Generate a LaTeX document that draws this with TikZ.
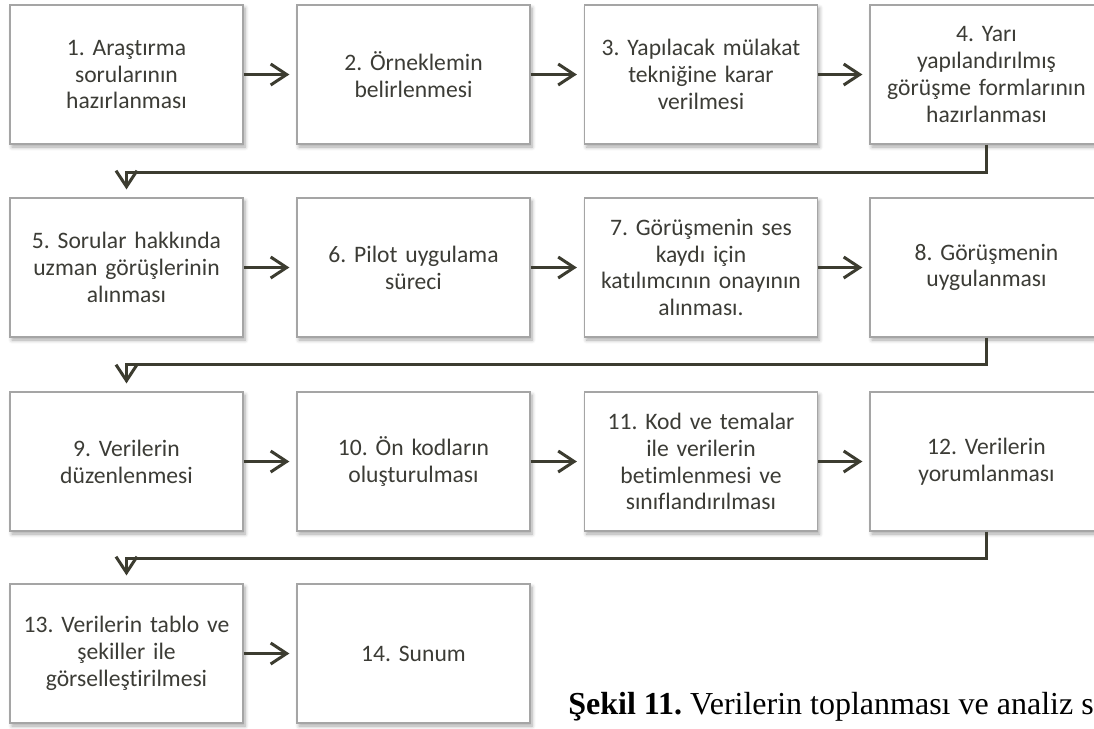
\documentclass[tikz,border=0pt]{standalone}
\usepackage{fontspec}
\setmainfont{Carlito}[Ligatures=NoCommon]
\newfontfamily\capfont{Liberation Serif}
\usetikzlibrary{arrows.meta,shadows.blur}
\frenchspacing

\definecolor{framegray}{RGB}{165,165,165}
\definecolor{inkgray}{RGB}{60,60,54}
\definecolor{linkolive}{RGB}{60,60,48}

\tikzset{
	stepbox/.style={draw=framegray, line width=0.6pt, fill=white, inner sep=0pt,
		minimum width=116.5pt, minimum height=69.5pt, text width=110pt, align=center,
		text=inkgray, font=\fontsize{11.8}{13.4}\selectfont,
		blur shadow={shadow xshift=1pt, shadow yshift=-1.5pt, shadow blur steps=6, shadow opacity=35}},
	linkarrow/.style={draw=linkolive, line width=1.5pt, -{Straight Barb[length=8pt,width=10.5pt]}}
}

\begin{document}
\begin{tikzpicture}[x=0.5pt,y=-0.5pt]
	%Picture frame in pixels, y pointing down
	\useasboundingbox (0,0) rectangle (1094,729);
	
	%Column centres \xa..\xd and row centres \ya..\yd
	\pgfmathsetmacro{\xa}{126.5}
	\pgfmathsetmacro{\xb}{413.5}
	\pgfmathsetmacro{\xc}{701}
	\pgfmathsetmacro{\xd}{986.5}
	\pgfmathsetmacro{\ya}{74.5}
	\pgfmathsetmacro{\yb}{267.5}
	\pgfmathsetmacro{\yc}{461.5}
	\pgfmathsetmacro{\yd}{653.5}
	%Turning lines lie 28px under each row
	\pgfmathsetmacro{\ta}{172}
	\pgfmathsetmacro{\tb}{364}
	\pgfmathsetmacro{\tc}{558}
	
	%First row
	\draw node[stepbox] (b1) at (\xa,\ya) {1. Araştırma\\ sorularının\\ hazırlanması};
	\draw node[stepbox] (b2) at (\xb,\ya) {2. Örneklemin\\ belirlenmesi};
	\draw node[stepbox] (b3) at (\xc,\ya) {3. Yapılacak mülakat\\ tekniğine karar\\ verilmesi};
	\draw node[stepbox] (b4) at (\xd,\ya) {4. Yarı\\ yapılandırılmış\\ görüşme formlarının\\ hazırlanması};
	
	%Second row
	\draw node[stepbox] (b5) at (\xa,\yb) {5. Sorular hakkında\\ uzman görüşlerinin\\ alınması};
	\draw node[stepbox] (b6) at (\xb,\yb) {6. Pilot uygulama\\ süreci};
	\draw node[stepbox] (b7) at (\xc,\yb) {7. Görüşmenin ses\\ kaydı için\\ katılımcının onayının\\ alınması.};
	\draw node[stepbox] (b8) at (\xd,\yb) {8. Görüşmenin\\ uygulanması};
	
	%Third row
	\draw node[stepbox] (b9) at (\xa,\yc) {9. Verilerin\\ düzenlenmesi};
	\draw node[stepbox] (b10) at (\xb,\yc) {10. Ön kodların\\ oluşturulması};
	\draw node[stepbox] (b11) at (\xc,\yc) {11. Kod ve temalar\\ ile verilerin\\ betimlenmesi ve\\ sınıflandırılması};
	\draw node[stepbox] (b12) at (\xd,\yc) {12. Verilerin\\ yorumlanması};
	
	%Fourth row
	\draw node[stepbox] (b13) at (\xa,\yd) {13. Verilerin tablo ve\\ şekiller ile\\ görselleştirilmesi};
	\draw node[stepbox] (b14) at (\xb,\yd) {14. Sunum};
	
	%Arrows inside the rows
	\draw[linkarrow, shorten >=3.5pt] (b1) -- (b2);
	\draw[linkarrow, shorten >=3.5pt] (b2) -- (b3);
	\draw[linkarrow, shorten >=3.5pt] (b3) -- (b4);
	\draw[linkarrow, shorten >=3.5pt] (b5) -- (b6);
	\draw[linkarrow, shorten >=3.5pt] (b6) -- (b7);
	\draw[linkarrow, shorten >=3.5pt] (b7) -- (b8);
	\draw[linkarrow, shorten >=3.5pt] (b9) -- (b10);
	\draw[linkarrow, shorten >=3.5pt] (b10) -- (b11);
	\draw[linkarrow, shorten >=3.5pt] (b11) -- (b12);
	\draw[linkarrow, shorten >=3.5pt] (b13) -- (b14);
	
	%Arrows from the end of a row to the start of the next
	\coordinate (t1) at (\xa,\ta);
	\coordinate (t2) at (\xa,\tb);
	\coordinate (t3) at (\xa,\tc);
	\draw[linkarrow, shorten >=4pt] (b4.south) |- (t1) -- (b5.north);
	\draw[linkarrow, shorten >=4pt] (b8.south) |- (t2) -- (b9.north);
	\draw[linkarrow, shorten >=4pt] (b12.south) |- (t3) -- (b13.north);
	
	%Caption
	\node[anchor=base west, inner sep=0pt, font=\capfont\fontsize{16}{19}\selectfont] (cap) at (568,714) {\textbf{Şekil 11.} Verilerin toplanması ve analiz s};
\end{tikzpicture}
\end{document}
